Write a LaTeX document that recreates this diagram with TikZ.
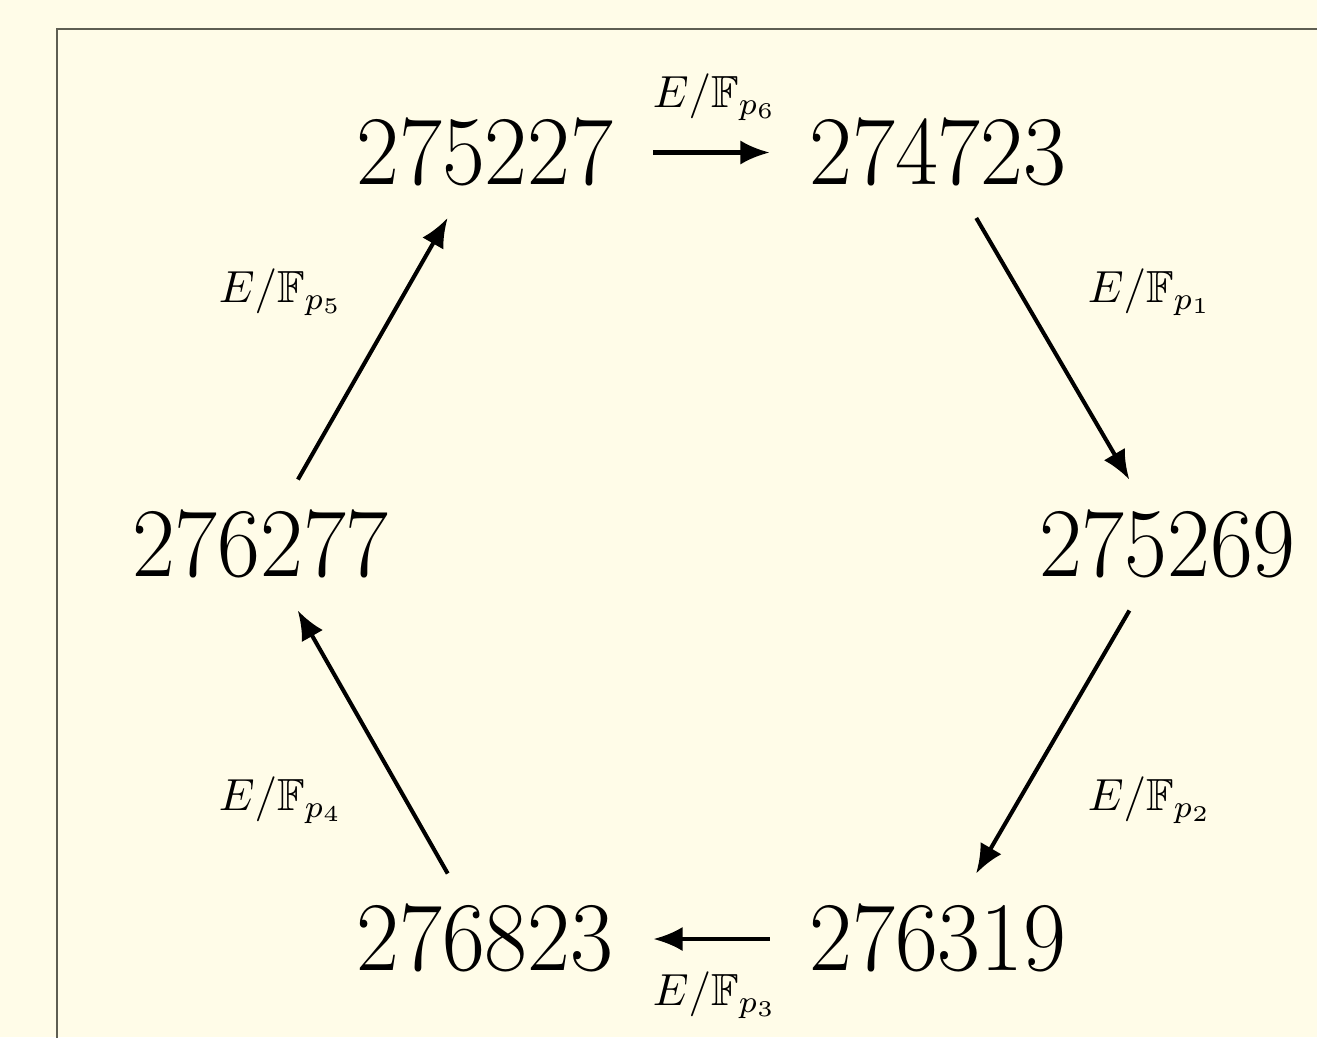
\documentclass[tikz,border=0pt]{standalone}
\usepackage{amssymb}
\usetikzlibrary{arrows.meta}
\definecolor{bgcol}{HTML}{FFFCE8}
\definecolor{framecol}{HTML}{5E5E52}
\newcommand{\bignum}[1]{\scalebox{1}[1.055]{\fontsize{21.5pt}{26pt}\selectfont$#1$}}
\begin{document}
\begin{tikzpicture}[x=0.2222pt,y=-0.2222pt,
  numbox/.style={inner xsep=8.7pt,inner ysep=7.3pt},
  lab/.style={inner sep=0pt,font=\normalsize},
  arr/.style={line width=0.9pt,-{Latex[length=6.5pt,width=5.4pt]}}]
\fill[bgcol] (0,0) rectangle (1317,1037);
\useasboundingbox (0,0) rectangle (1317,1037);
\draw[framecol,line width=0.55pt] (57,1040) -- (57,29) -- (1320,29);
\node[numbox] (A) at (485,152.5) {\bignum{275227}};
\node[numbox] (B) at (938,152.5) {\bignum{274723}};
\node[numbox] (C) at (1167.5,545) {\bignum{275269}};
\node[numbox] (D) at (938,939) {\bignum{276319}};
\node[numbox] (E) at (485,939) {\bignum{276823}};
\node[numbox] (F) at (260.5,545) {\bignum{276277}};
\draw[arr] (A) -- (B);
\draw[arr] (B) -- (C);
\draw[arr] (C) -- (D);
\draw[arr] (D) -- (E);
\draw[arr] (E) -- (F);
\draw[arr] (F) -- (A);
\node[lab] (l6) at (715,97) {$E/\mathbb{F}_{p_6}$};
\node[lab] (l1) at (1150,292) {$E/\mathbb{F}_{p_1}$};
\node[lab] (l2) at (1150,800) {$E/\mathbb{F}_{p_2}$};
\node[lab] (l3) at (715,995) {$E/\mathbb{F}_{p_3}$};
\node[lab] (l4) at (281,800) {$E/\mathbb{F}_{p_4}$};
\node[lab] (l5) at (281,292) {$E/\mathbb{F}_{p_5}$};
\end{tikzpicture}
\end{document}
